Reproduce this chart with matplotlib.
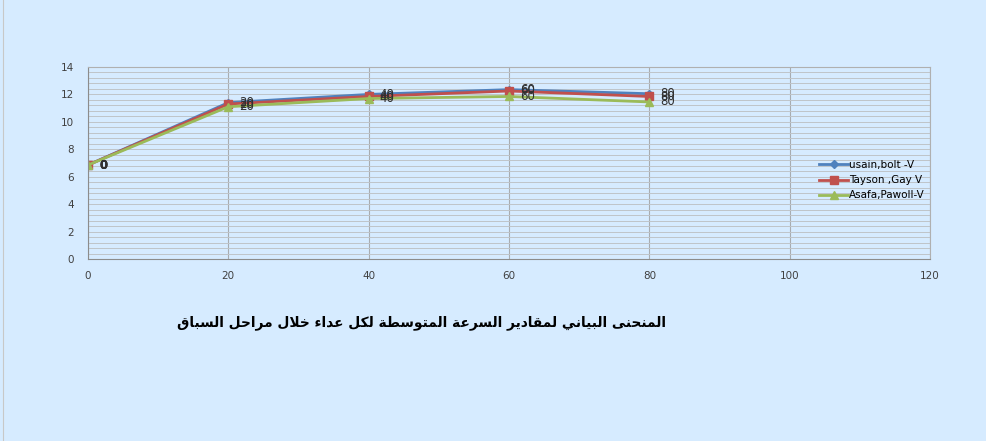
import matplotlib.pyplot as plt
import numpy as np

# distance marks (m) and average speed per stage (m/s)
distance = [0, 20, 40, 60, 80]
bolt = [6.85, 11.4, 12.0, 12.35, 12.05]
gay = [6.85, 11.3, 11.85, 12.25, 11.85]
powell = [6.85, 11.1, 11.7, 11.85, 11.45]
names = ['usain,bolt -V', 'Tayson ,Gay V', 'Asafa,Pawoll-V']
title = 'المنحنى البياني لمقادير السرعة المتوسطة لكل عداء خلال مراحل السباق'

# arabic presentation forms: isolated, final, initial, medial (None = no left join)
forms = {
    'ء': (0xFE80, None, None, None), 'ا': (0xFE8D, 0xFE8E, None, None),
    'ب': (0xFE8F, 0xFE90, 0xFE91, 0xFE92), 'ة': (0xFE93, 0xFE94, None, None),
    'ت': (0xFE95, 0xFE96, 0xFE97, 0xFE98), 'ح': (0xFEA1, 0xFEA2, 0xFEA3, 0xFEA4),
    'خ': (0xFEA5, 0xFEA6, 0xFEA7, 0xFEA8), 'د': (0xFEA9, 0xFEAA, None, None),
    'ر': (0xFEAD, 0xFEAE, None, None), 'س': (0xFEB1, 0xFEB2, 0xFEB3, 0xFEB4),
    'ط': (0xFEC1, 0xFEC2, 0xFEC3, 0xFEC4), 'ع': (0xFEC9, 0xFECA, 0xFECB, 0xFECC),
    'ق': (0xFED5, 0xFED6, 0xFED7, 0xFED8), 'ك': (0xFED9, 0xFEDA, 0xFEDB, 0xFEDC),
    'ل': (0xFEDD, 0xFEDE, 0xFEDF, 0xFEE0), 'م': (0xFEE1, 0xFEE2, 0xFEE3, 0xFEE4),
    'ن': (0xFEE5, 0xFEE6, 0xFEE7, 0xFEE8), 'و': (0xFEED, 0xFEEE, None, None),
    'ى': (0xFEEF, 0xFEF0, None, None), 'ي': (0xFEF1, 0xFEF2, 0xFEF3, 0xFEF4),
    'لا': (0xFEFB, 0xFEFC, None, None),
}


def shape(text):
    out = []
    for word in text.split(' '):
        chars = []
        i = 0
        while i < len(word):
            if word[i:i + 2] == 'لا':
                chars.append('لا')
                i += 2
            else:
                chars.append(word[i])
                i += 1
        s = ''
        for k, c in enumerate(chars):
            f = forms[c]
            prev = forms[chars[k - 1]] if k > 0 else None
            nxt = chars[k + 1] if k + 1 < len(chars) else None
            jp = prev is not None and prev[2] is not None and f[1] is not None
            jn = nxt is not None and f[2] is not None and forms[nxt][1] is not None
            if jp and jn:
                s += chr(f[3])
            elif jp:
                s += chr(f[1])
            elif jn:
                s += chr(f[2])
            else:
                s += chr(f[0])
        out.append(s)
    return ' '.join(out)[::-1]


fig = plt.figure(figsize=(9.86, 4.41), dpi=100, facecolor='#d6ebff')
ax = fig.add_axes([0.0892, 0.4127, 0.8540, 0.4354])
ax.set_facecolor('#d6ebff')

ax.plot(distance, bolt, '-D', color='#4f81bd', lw=2, ms=4, label=names[0])
ax.plot(distance, gay, '-s', color='#c0504d', lw=2, ms=6, label=names[1])
ax.plot(distance, powell, '-^', color='#9bbb59', lw=2, ms=6, label=names[2])

# data labels show the distance mark
for series in (bolt, gay, powell):
    for x, y in zip(distance, series):
        ax.annotate(str(x), (x, y), xytext=(8, 0), textcoords='offset points',
                    ha='left', va='center', fontsize=8.5, color='#303030',
                    fontweight='bold' if x == 0 else 'normal')

ax.set_xlim(0, 120)
ax.set_ylim(0, 14)
ax.set_xticks(np.arange(0, 121, 20))
ax.set_yticks(np.arange(0, 15, 2))
ax.set_yticks(np.arange(0, 14, 0.4), minor=True)
ax.grid(axis='x', which='major', color='#a8acb0', lw=0.8)
ax.grid(axis='y', which='both', color='#bfc4c9', lw=0.7)
ax.set_axisbelow(True)
ax.tick_params(which='both', length=0, labelsize=7.5, labelcolor='#404040')
ax.tick_params(axis='x', pad=9)
ax.tick_params(axis='y', pad=10)
for side in ['top', 'right']:
    ax.spines[side].set_color('#b0b0b0')
for side in ['left', 'bottom']:
    ax.spines[side].set_color('#8c8c8c')

ax.legend(loc='center left', bbox_to_anchor=(0.862, 0.41), frameon=False,
          fontsize=7.5, handlelength=2.8, handletextpad=0.1, labelspacing=0.5,
          borderpad=0)

fig.text(0.427, 0.268, shape(title), ha='center', va='center',
         fontsize=9.9, fontweight='bold', family='DejaVu Sans')
fig.add_artist(plt.Line2D([0.003, 0.003], [0, 1], color='#c8c8c8', lw=0.8))

plt.savefig('out.png', dpi=100, facecolor=fig.get_facecolor())
